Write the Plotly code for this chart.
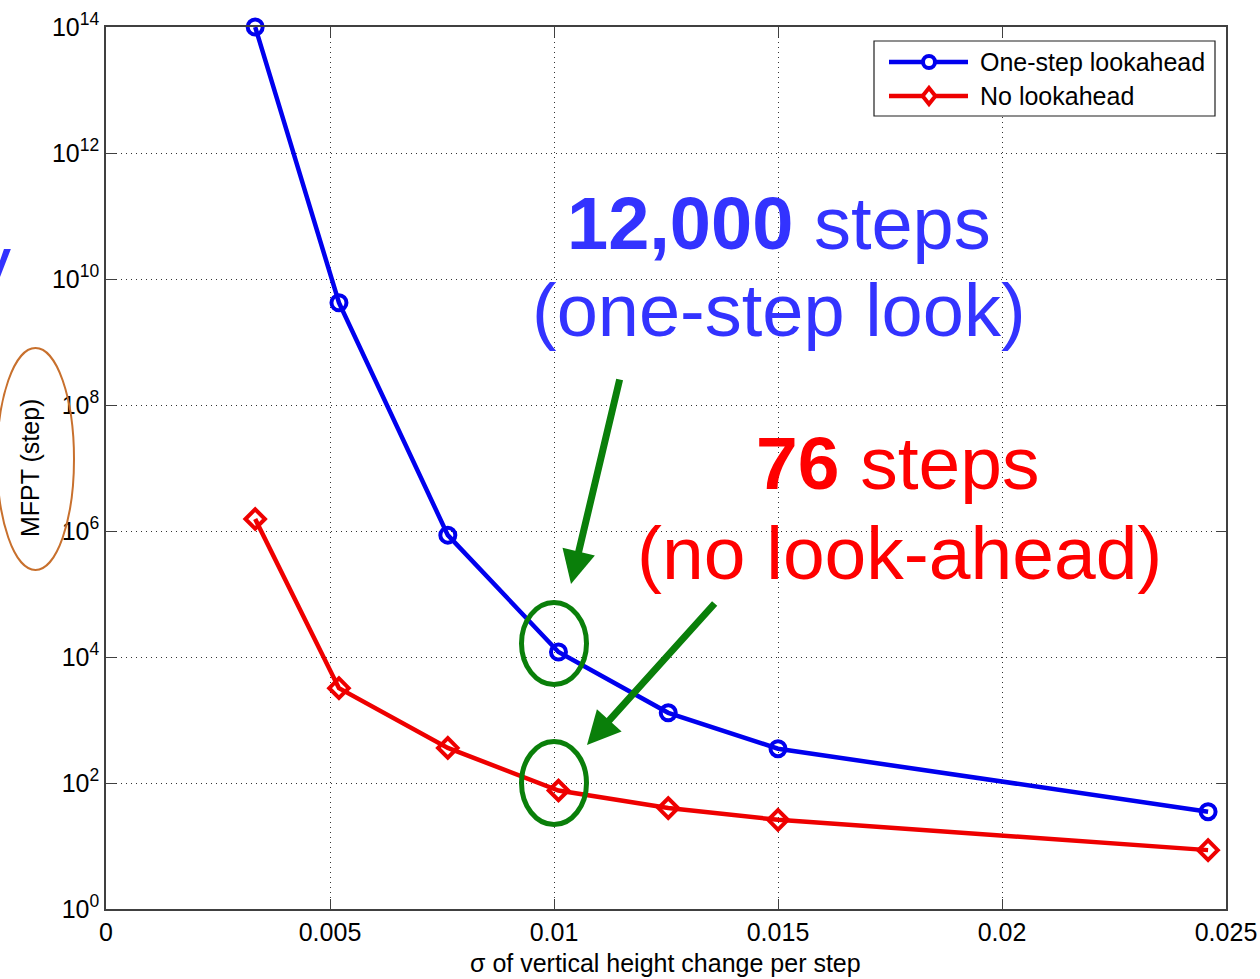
import plotly.graph_objects as go

# ---- data ----
sigma = [0.00333, 0.0052, 0.00763, 0.0101, 0.01255, 0.015, 0.0246]
mfpt_lookahead = [1.0e14, 4.2e9, 8.6e5, 1.2e4, 1.3e3, 3.5e2, 35]
mfpt_no_lookahead = [1.55e6, 3.2e3, 3.6e2, 76, 40, 26, 8.6]

x_tickvals = [0, 0.005, 0.01, 0.015, 0.02, 0.025]
x_ticktext = ["0", "0.005", "0.01", "0.015", "0.02", "0.025"]
y_exponents = [0, 2, 4, 6, 8, 10, 12, 14]
y_tickvals = [10 ** e for e in y_exponents]
y_ticktext = ["10<sup>%d</sup>" % e for e in y_exponents]

series_names = ["One-step lookahead", "No lookahead"]
x_title = "σ of vertical height change per step"
y_title = "MFPT (step)"

FONT = "Liberation Sans, Arial, sans-serif"
BLUE = "#0000ee"
RED = "#ee0000"
GREEN = "#0a7f0a"

# ---- geometry of the plot area (px) ----
W, H = 1260, 979
L, R, T, B = 106, 1226, 27, 909
PW, PH = R - L, B - T


def px(x):
    return (x - L) / PW


def py(y):
    return (B - y) / PH


fig = go.Figure()
fig.add_trace(go.Scatter(
    x=sigma, y=mfpt_lookahead, mode="lines+markers", name=series_names[0],
    line=dict(color=BLUE, width=4.5),
    marker=dict(symbol="circle-open", size=15, color=BLUE, line=dict(width=4)),
    showlegend=False, cliponaxis=False))
fig.add_trace(go.Scatter(
    x=sigma, y=mfpt_no_lookahead, mode="lines+markers", name=series_names[1],
    line=dict(color=RED, width=4.5),
    marker=dict(symbol="diamond-open", size=15, color=RED, line=dict(width=4)),
    showlegend=False, cliponaxis=False))

axis_common = dict(
    showline=True, linecolor="#404040", linewidth=1.5, mirror="ticks",
    ticks="inside", ticklen=10, tickcolor="#404040", tickwidth=1.2,
    showgrid=True, gridcolor="#333333", griddash="1px,4px", gridwidth=1.2,
    zeroline=False, tickfont=dict(family=FONT, size=25, color="black"),
)

fig.update_xaxes(range=[0, 0.025], tickvals=x_tickvals, ticktext=x_ticktext,
                 ticklabelstandoff=0, **axis_common)
fig.update_yaxes(type="log", range=[0, 14], tickvals=y_tickvals, ticktext=y_ticktext,
                 ticklabelstandoff=0, **axis_common)

shapes = []
annotations = []

# custom legend
shapes.append(dict(type="rect", xref="paper", yref="paper",
                   x0=px(874), x1=px(1215), y0=py(41), y1=py(116),
                   line=dict(color="#202020", width=1.2), fillcolor="white", layer="above"))
for yy, col, name, sym in [(62, BLUE, series_names[0], "circle"), (96, RED, series_names[1], "diamond")]:
    shapes.append(dict(type="line", xref="paper", yref="paper",
                       x0=px(889), x1=px(968), y0=py(yy), y1=py(yy),
                       line=dict(color=col, width=4.5), layer="above"))
    r = 6
    if sym == "circle":
        shapes.append(dict(type="circle", xref="paper", yref="paper",
                           x0=px(929 - r), x1=px(929 + r), y0=py(yy - r), y1=py(yy + r),
                           line=dict(color=col, width=4), fillcolor="white", layer="above"))
    else:
        d = 8
        path = "M %f %f L %f %f L %f %f L %f %f Z" % (
            px(929), py(yy - d), px(929 + d * 0.8), py(yy),
            px(929), py(yy + d), px(929 - d * 0.8), py(yy))
        shapes.append(dict(type="path", xref="paper", yref="paper", path=path,
                           line=dict(color=col, width=4), fillcolor="white", layer="above"))
    annotations.append(dict(xref="paper", yref="paper", x=px(978), y=py(yy),
                            xanchor="left", yanchor="middle", showarrow=False,
                            text=name, font=dict(family=FONT, size=25, color="black")))

# axis titles
annotations.append(dict(xref="paper", yref="paper", x=px(665), y=py(963),
                        xanchor="center", yanchor="middle", showarrow=False,
                        text=x_title, font=dict(family=FONT, size=25, color="black")))
annotations.append(dict(xref="paper", yref="paper", x=px(30), y=py(468),
                        xanchor="center", yanchor="middle", showarrow=False, textangle=-90,
                        text=y_title, font=dict(family=FONT, size=25, color="black")))

# callout texts
TBLUE = "#3333ff"
TRED = "#ff0000"
annotations.append(dict(xref="paper", yref="paper", x=px(779), y=py(223),
                        xanchor="center", yanchor="middle", showarrow=False,
                        text="<b>12,000</b> steps", font=dict(family=FONT, size=74, color=TBLUE)))
annotations.append(dict(xref="paper", yref="paper", x=px(779), y=py(311),
                        xanchor="center", yanchor="middle", showarrow=False,
                        text="(one-step look)", font=dict(family=FONT, size=74, color=TBLUE)))
annotations.append(dict(xref="paper", yref="paper", x=px(898), y=py(463),
                        xanchor="center", yanchor="middle", showarrow=False,
                        text="<b>76</b> steps", font=dict(family=FONT, size=75, color=TRED)))
annotations.append(dict(xref="paper", yref="paper", x=px(899), y=py(553),
                        xanchor="center", yanchor="middle", showarrow=False,
                        text="(no look-ahead)", font=dict(family=FONT, size=75, color=TRED)))
# cut-off slide letter at left edge
annotations.append(dict(xref="paper", yref="paper", x=px(13), y=py(262),
                        xanchor="right", yanchor="middle", showarrow=False,
                        text="y", font=dict(family=FONT, size=74, color=TBLUE)))

# green arrows
for tip, tail in [((571, 584), (620, 378)), ((587, 745), (716, 602))]:
    annotations.append(dict(xref="paper", yref="paper", x=px(tip[0]), y=py(tip[1]),
                            ax=tail[0] - tip[0], ay=tail[1] - tip[1],
                            axref="pixel", ayref="pixel", showarrow=True, text="",
                            arrowhead=2, arrowsize=0.95, arrowwidth=7, arrowcolor=GREEN))

# green ellipses
for (x0, x1, y0, y1) in [(521.5, 586.5, 602.5, 684.5), (521.5, 586.5, 741.5, 824.5)]:
    shapes.append(dict(type="circle", xref="paper", yref="paper",
                       x0=px(x0), x1=px(x1), y0=py(y0), y1=py(y1),
                       line=dict(color=GREEN, width=5), layer="above"))
# orange ellipse around y title
shapes.append(dict(type="circle", xref="paper", yref="paper",
                   x0=px(-3), x1=px(74), y0=py(348), y1=py(570),
                   line=dict(color="#c8702d", width=2), layer="above"))

fig.update_layout(
    width=W, height=H,
    margin=dict(l=L, r=W - R, t=T, b=H - B, autoexpand=False),
    paper_bgcolor="white", plot_bgcolor="white",
    showlegend=False,
    shapes=shapes, annotations=annotations,
    font=dict(family=FONT, size=25, color="black"),
)

fig.write_html("out.html", config={"displayModeBar": False})
